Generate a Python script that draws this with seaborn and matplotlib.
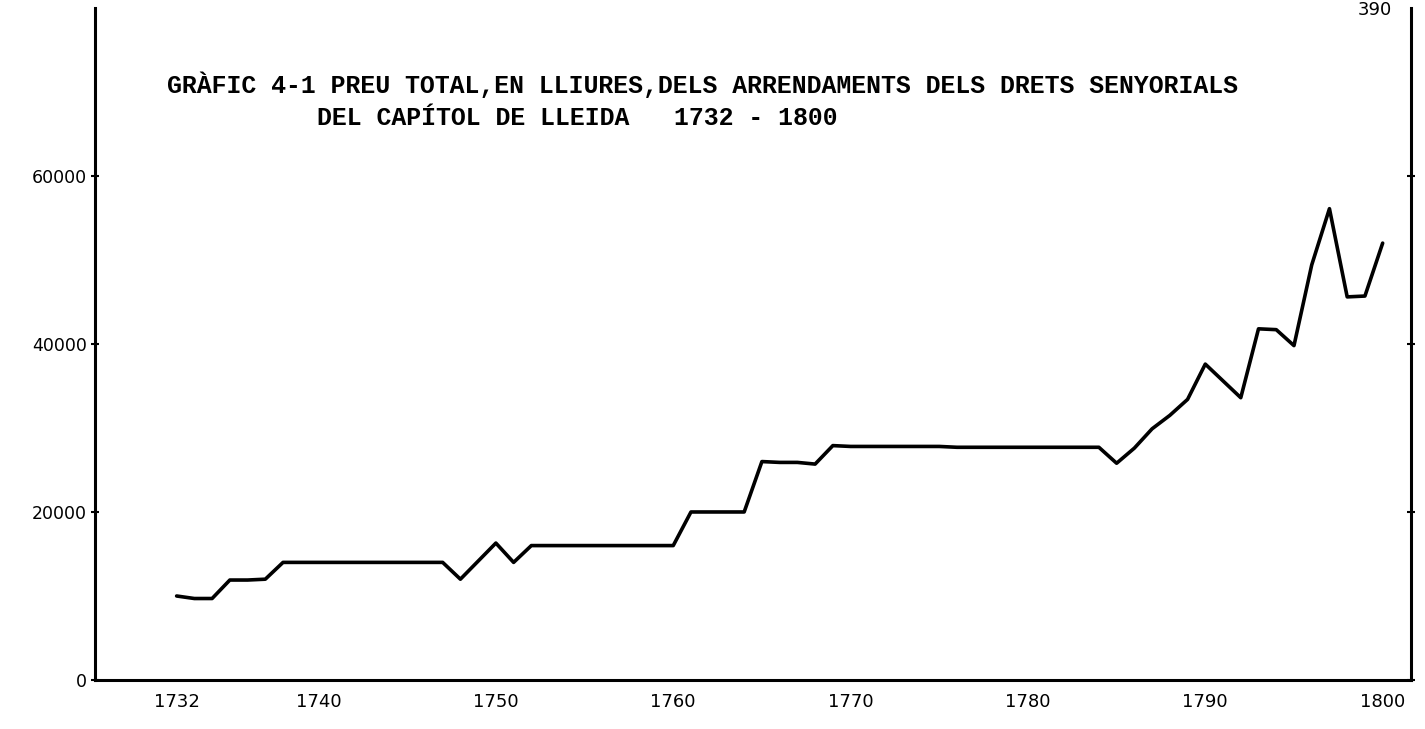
import matplotlib
matplotlib.use("Agg")
import matplotlib.pyplot as plt
import seaborn as sns
import pandas as pd

# values (lliures per year)
years = [1732, 1733, 1734, 1735, 1736, 1737, 1738, 1739, 1740, 1741, 1742,
         1743, 1744, 1745, 1746, 1747, 1748, 1750, 1751, 1752, 1753, 1754,
         1755, 1756, 1757, 1758, 1759, 1760, 1761, 1762, 1763, 1764, 1765,
         1766, 1767, 1768, 1769, 1770, 1771, 1772, 1773, 1774, 1775, 1776,
         1777, 1778, 1779, 1780, 1781, 1782, 1783, 1784, 1785, 1786, 1787,
         1788, 1789, 1790, 1791, 1792, 1793, 1794, 1795, 1796, 1797, 1798,
         1799, 1800]
values = [10000, 9700, 9700, 11900, 11900, 12000, 14000, 14000, 14000, 14000, 14000,
          14000, 14000, 14000, 14000, 14000, 12000, 16300, 14000, 16000, 16000, 16000,
          16000, 16000, 16000, 16000, 16000, 16000, 20000, 20000, 20000, 20000, 26000,
          25900, 25900, 25700, 27900, 27800, 27800, 27800, 27800, 27800, 27800, 27700,
          27700, 27700, 27700, 27700, 27700, 27700, 27700, 27700, 25800, 27600, 29900,
          31500, 33400, 37600, 35600, 33600, 41800, 41700, 39800, 49400, 56100, 45600,
          45700, 52000]

x_ticks = [1732, 1740, 1750, 1760, 1770, 1780, 1790, 1800]
y_ticks = [0, 20000, 40000, 60000]

title_1 = "GRÀFIC 4-1 PREU TOTAL,EN LLIURES,DELS ARRENDAMENTS DELS DRETS SENYORIALS"
title_2 = "DEL CAPÍTOL DE LLEIDA   1732 - 1800"

df = pd.DataFrame({"year": years, "preu": values})

sns.set_style("white")
fig = plt.figure(figsize=(14.25, 7.29), dpi=100)
ax = fig.add_axes([0.0667, 0.0672, 0.9235, 0.922])

sns.lineplot(data=df, x="year", y="preu", color="black", linewidth=2.6, ax=ax)

ax.set_xlim(1727.4, 1801.6)
ax.set_ylim(0, 80000)
ax.set_xticks(x_ticks)
ax.set_yticks(y_ticks)
ax.set_xlabel("")
ax.set_ylabel("")

for side in ["left", "bottom", "right"]:
    ax.spines[side].set_visible(True)
    ax.spines[side].set_color("black")
    ax.spines[side].set_linewidth(2.2)
ax.spines["top"].set_visible(False)

ax.tick_params(axis="x", direction="inout", length=8, width=1.5, labelsize=13,
               pad=5, colors="black")
ax.tick_params(axis="y", direction="inout", length=6, width=1.5, labelsize=12.5,
               pad=3, colors="black", right=True, left=True)

# typewriter title, two lines, second one indented
fig.text(167 / 1425, 1 - 93 / 729, title_1, family="Liberation Mono",
         fontweight="bold", fontsize=17.9, va="baseline", ha="left", color="black")
fig.text(317 / 1425, 1 - 125 / 729, title_2, family="Liberation Mono",
         fontweight="bold", fontsize=17.9, va="baseline", ha="left", color="black")
fig.text(1375 / 1425, 1 - 10 / 729, "390", fontsize=13, va="center", ha="center",
         color="black")

fig.savefig("out.png", dpi=100)
